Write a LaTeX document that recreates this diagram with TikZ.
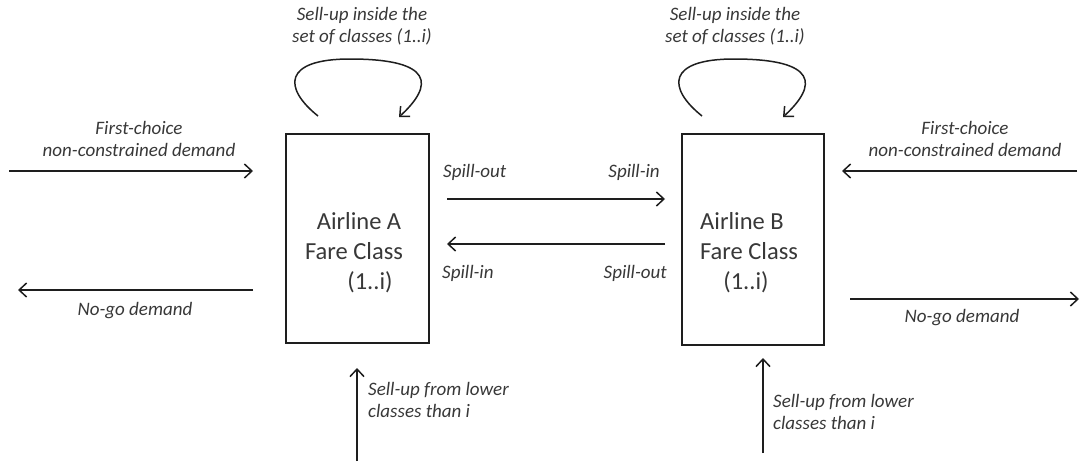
\documentclass[tikz,border=0pt]{standalone}
\usepackage{fontspec}
\setmainfont{Carlito}
\usetikzlibrary{arrows.meta}
\definecolor{ink}{HTML}{1E1E1E}
\definecolor{txt}{HTML}{383838}
\begin{document}
\begin{tikzpicture}[x=1pt,y=-1pt,
  flow/.style={draw=ink, line width=1.5pt, -{Straight Barb[length=7.5pt,width=14pt,line width=1.5pt]}},
  lbl/.style={font=\fontsize{19}{22}\selectfont\itshape, text=txt, inner sep=0pt},
  big/.style={font=\fontsize{24.5}{29}\selectfont, text=txt, inner sep=0pt},
  fare/.style={draw=ink, line width=1.5pt, inner sep=0pt}]
\useasboundingbox (0,0) rectangle (1080,461);

% the two airline boxes
\node[fare, minimum width=143pt, minimum height=209pt] (boxA) at (357.5,238.5) {};
\node[fare, minimum width=142pt, minimum height=211pt] (boxB) at (753,239.5) {};

\node[big] (a1) at (359,221) {Airline A};
\node[big] (a2) at (354,251) {Fare Class};
\node[big] (a3) at (370,282) {(1..i)};
\node[big] (b1) at (742,221) {Airline B};
\node[big] (b2) at (749,251) {Fare Class};
\node[big] (b3) at (746,282) {(1..i)};

% end points of the flows
\coordinate (fcAin) at (9,171);   \coordinate (fcAend) at (253,171);
\coordinate (ngAst) at (253,290); \coordinate (ngAend) at (18,290);
\coordinate (fcBin) at (1077,171); \coordinate (fcBend) at (842,171);
\coordinate (ngBst) at (850,299); \coordinate (ngBend) at (1079,299);
\coordinate (spTa) at (447,199);  \coordinate (spTb) at (665,199);
\coordinate (spBb) at (665,244);  \coordinate (spBa) at (447,244);
\coordinate (suAlow) at (357,461); \coordinate (suAtop) at (357,368);
\coordinate (suBlow) at (763,453); \coordinate (suBtop) at (763,358);
\coordinate (loopAs) at (318,116); \coordinate (loopAt) at (350,59); \coordinate (loopAe) at (399,117);
\coordinate (loopBs) at (702,116); \coordinate (loopBt) at (734,59); \coordinate (loopBe) at (783,117);

% demand flows
\draw[flow] (fcAin) -- (fcAend);
\draw[flow] (ngAst) -- (ngAend);
\draw[flow] (fcBin) -- (fcBend);
\draw[flow] (ngBst) -- (ngBend);
\draw[flow] (spTa) -- (spTb);
\draw[flow] (spBb) -- (spBa);
\draw[flow] (suAlow) -- (suAtop);
\draw[flow] (suBlow) -- (suBtop);

% sell-up loops above the boxes
\draw[flow] (loopAs) .. controls (283,88) and (283,59) .. (loopAt)
  .. controls (434,59) and (434,85) .. (loopAe);
\draw[flow] (loopBs) .. controls (667,88) and (667,59) .. (loopBt)
  .. controls (818,59) and (818,85) .. (loopBe);

% labels
\node[lbl, align=center] (tA) at (362,26) {Sell-up inside the\\set of classes (1..i)};
\node[lbl, align=center] (tB) at (735,26) {Sell-up inside the\\set of classes (1..i)};
\node[lbl, align=center] (fA) at (139,139) {First-choice\\non-constrained demand};
\node[lbl, align=center] (fB) at (965,139) {First-choice\\non-constrained demand};
\node[lbl] (nA) at (135,311) {No-go demand};
\node[lbl] (nB) at (962,318) {No-go demand};
\node[lbl, anchor=west] (so1) at (443,172) {Spill-out};
\node[lbl, anchor=east] (si1) at (660,172) {Spill-in};
\node[lbl, anchor=west] (si2) at (442,273) {Spill-in};
\node[lbl, anchor=east] (so2) at (667,273) {Spill-out};
\node[lbl, anchor=west, align=left] (lA) at (368,400) {Sell-up from lower\\classes than i};
\node[lbl, anchor=west, align=left] (lB) at (773,412) {Sell-up from lower\\classes than i};
\end{tikzpicture}
\end{document}
